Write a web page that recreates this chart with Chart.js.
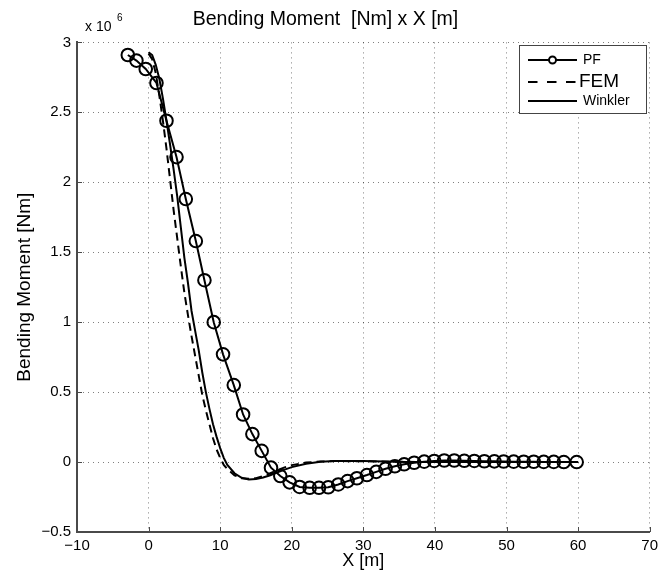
<!DOCTYPE html>
<html>
<head>
<meta charset="utf-8">
<script src="https://cdn.jsdelivr.net/npm/chart.js@4.4.0/dist/chart.umd.min.js"></script>
<style>
  html, body { margin: 0; padding: 0; background: #fff; }
</style>
</head>
<body>
<canvas id="myChart" width="658" height="577"></canvas>
<script>
// values, bending moment in units of 10^6 Nm
const pfX = [-2.9, -1.7, -0.4, 1.1, 2.5, 3.9, 5.2, 6.6, 7.8, 9.1, 10.4, 11.9, 13.2, 14.5, 15.8, 17.1,
  18.4, 19.7, 21.1, 22.5, 23.8, 25.1, 26.5, 27.8, 29.1, 30.5, 31.8, 33.1, 34.4, 35.7, 37.1, 38.5,
  39.9, 41.3, 42.7, 44.1, 45.5, 46.9, 48.3, 49.6, 51.0, 52.4, 53.8, 55.2, 56.6, 58.0, 59.8];
const pfY = [2.91, 2.87, 2.81, 2.71, 2.44, 2.18, 1.88, 1.58, 1.30, 1.00, 0.77, 0.55, 0.34, 0.20, 0.08, -0.04,
  -0.10, -0.145, -0.178, -0.184, -0.184, -0.18, -0.16, -0.136, -0.116, -0.093, -0.07, -0.048, -0.03, -0.016, -0.005, 0.003,
  0.008, 0.011, 0.011, 0.009, 0.008, 0.006, 0.005, 0.004, 0.003, 0.002, 0.002, 0.001, 0.001, 0.0, 0.0];

const winklerX = [0, 0.5, 1, 1.5, 2, 2.5, 3, 3.5, 4, 4.5, 5, 5.5, 6, 6.5, 7, 7.5, 8, 8.5, 9, 9.5, 10, 10.5, 11,
  12, 13, 14, 15, 16, 17, 18, 19, 20, 22, 24, 26, 28, 30, 33, 36, 40, 50, 60];
const winklerY = [2.93, 2.91, 2.84, 2.74, 2.60, 2.44, 2.27, 2.09, 1.90, 1.68, 1.46, 1.28, 1.08, 0.94, 0.80, 0.64, 0.50, 0.38, 0.27, 0.18, 0.10, 0.03, -0.02,
  -0.08, -0.112, -0.124, -0.122, -0.11, -0.094, -0.074, -0.054, -0.036, -0.012, 0.002, 0.007, 0.008, 0.007, 0.004, 0.001, 0, 0, 0];

const femX = [0, 0.5, 1, 1.5, 2, 2.5, 3, 3.5, 4, 4.5, 5, 5.5, 6, 6.5, 7, 7.5, 8, 8.5, 9, 9.5, 10, 10.5, 11,
  12, 13, 14, 15, 16, 17, 18, 19, 20, 22, 24, 26, 30, 35, 40, 50, 60];
const femY = [2.92, 2.88, 2.78, 2.62, 2.44, 2.24, 2.02, 1.80, 1.60, 1.40, 1.21, 1.05, 0.90, 0.76, 0.62, 0.48, 0.37, 0.27, 0.17, 0.09, 0.03, -0.02, -0.05,
  -0.095, -0.115, -0.12, -0.115, -0.10, -0.08, -0.058, -0.038, -0.022, -0.004, 0.004, 0.007, 0.006, 0.002, 0, 0, 0];

const xTicks = [-10, 0, 10, 20, 30, 40, 50, 60, 70];
const yTicks = [-0.5, 0, 0.5, 1, 1.5, 2, 2.5, 3];
const seriesNames = ['PF', 'FEM', 'Winkler'];

const FONT = '"Liberation Sans", Arial, sans-serif';

function points(xs, ys) {
    return xs.map((x, i) => ({ x: x, y: ys[i] }));
}

// inward ticks, the x 10^6 factor and the legend as MATLAB draws them
const extras = {
    id: 'extras',
    afterDraw(chart) {
        const ctx = chart.ctx;
        const xs = chart.scales.x;
        const ys = chart.scales.y;
        const area = chart.chartArea;
        ctx.save();
        ctx.strokeStyle = '#4a4a4a';
        ctx.lineWidth = 1;
        xTicks.forEach(v => {
            const px = Math.round(xs.getPixelForValue(v)) + 0.5;
            ctx.beginPath();
            ctx.moveTo(px, area.bottom);
            ctx.lineTo(px, area.bottom - 5);
            ctx.stroke();
        });
        yTicks.forEach(v => {
            const py = Math.round(ys.getPixelForValue(v)) + 0.5;
            ctx.beginPath();
            ctx.moveTo(area.left, py);
            ctx.lineTo(area.left + 5, py);
            ctx.stroke();
        });

        ctx.fillStyle = '#000';
        ctx.textBaseline = 'alphabetic';
        ctx.textAlign = 'left';
        ctx.font = '14px ' + FONT;
        ctx.fillText('x 10', 85, 31);
        ctx.font = '10px ' + FONT;
        ctx.fillText('6', 117, 21);

        // legend box
        const bx = 519, by = 45, bw = 127, bh = 68;
        ctx.fillStyle = '#fff';
        ctx.fillRect(bx, by, bw, bh);
        ctx.strokeStyle = '#444';
        ctx.lineWidth = 1;
        ctx.strokeRect(bx + 0.5, by + 0.5, bw, bh);

        ctx.strokeStyle = '#000';
        ctx.lineWidth = 2;
        ctx.textBaseline = 'middle';
        ctx.fillStyle = '#000';

        // PF
        ctx.beginPath();
        ctx.moveTo(528, 60);
        ctx.lineTo(577, 60);
        ctx.stroke();
        ctx.beginPath();
        ctx.arc(552.5, 60, 3.5, 0, Math.PI * 2);
        ctx.fillStyle = '#fff';
        ctx.fill();
        ctx.stroke();
        ctx.fillStyle = '#000';
        ctx.font = '14px ' + FONT;
        ctx.fillText(seriesNames[0], 583, 60);

        // FEM
        ctx.setLineDash([9.5, 9.5]);
        ctx.beginPath();
        ctx.moveTo(528, 82);
        ctx.lineTo(577, 82);
        ctx.stroke();
        ctx.setLineDash([]);
        ctx.font = '19px ' + FONT;
        ctx.fillText(seriesNames[1], 579, 82);

        // Winkler
        ctx.beginPath();
        ctx.moveTo(528, 101);
        ctx.lineTo(577, 101);
        ctx.stroke();
        ctx.font = '14px ' + FONT;
        ctx.fillText(seriesNames[2], 583, 101);
        ctx.restore();
    }
};

const ctx = document.getElementById('myChart').getContext('2d');
const chart = new Chart(ctx, {
    type: 'line',
    data: {
        datasets: [{
            label: seriesNames[0],
            data: points(pfX, pfY),
            borderColor: '#000',
            borderWidth: 2,
            pointRadius: 6.3,
            pointBorderWidth: 2,
            pointBorderColor: '#000',
            pointBackgroundColor: 'rgba(0,0,0,0)',
            order: 0
        }, {
            label: seriesNames[1],
            data: points(femX, femY),
            borderColor: '#000',
            borderWidth: 2,
            borderDash: [8, 5],
            pointRadius: 0,
            order: 1
        }, {
            label: seriesNames[2],
            data: points(winklerX, winklerY),
            borderColor: '#000',
            borderWidth: 2,
            pointRadius: 0,
            order: 1
        }]
    },
    options: {
        responsive: false,
        animation: false,
        devicePixelRatio: 1,
        layout: { padding: { left: 0, right: 7, top: 0, bottom: 0 } },
        plugins: {
            legend: { display: false },
            tooltip: { enabled: false },
            title: {
                display: true,
                text: 'Bending Moment  [Nm] x X [m]',
                color: '#000',
                font: { family: FONT, size: 19.5, weight: 'normal' },
                padding: { top: 8, bottom: 11 }
            }
        },
        scales: {
            x: {
                type: 'linear',
                min: -10,
                max: 70,
                afterBuildTicks: (s) => { s.ticks = xTicks.map(v => ({ value: v })); },
                afterFit: (s) => { s.height = 45; s.paddingLeft = 0; s.paddingRight = 0; },
                ticks: {
                    color: '#000',
                    padding: 5,
                    maxRotation: 0,
                    font: { family: FONT, size: 15 },
                    callback: (v) => String(v).replace('-', '\u2212')
                },
                grid: { color: 'rgba(0,0,0,0.5)', lineWidth: 1, drawTicks: false },
                border: { display: true, color: '#4a4a4a', width: 2, dash: [1, 4] },
                title: {
                    display: true,
                    text: 'X [m]',
                    color: '#000',
                    font: { family: FONT, size: 18 },
                    padding: { top: 0, bottom: 5 }
                }
            },
            y: {
                min: -0.5,
                max: 3,
                afterBuildTicks: (s) => { s.ticks = yTicks.map(v => ({ value: v })); },
                afterFit: (s) => { s.width = 77; s.paddingTop = 0; s.paddingBottom = 0; },
                ticks: {
                    color: '#000',
                    padding: 6,
                    font: { family: FONT, size: 15 },
                    callback: (v) => String(v).replace('-', '\u2212')
                },
                grid: { color: 'rgba(0,0,0,0.5)', lineWidth: 1, drawTicks: false },
                border: { display: true, color: '#4a4a4a', width: 2, dash: [1, 4] },
                title: {
                    display: true,
                    text: 'Bending Moment [Nm]',
                    color: '#000',
                    font: { family: FONT, size: 19 },
                    padding: { top: 13, bottom: 0 }
                }
            }
        }
    },
    plugins: [extras]
});
</script>
</body>
</html>
